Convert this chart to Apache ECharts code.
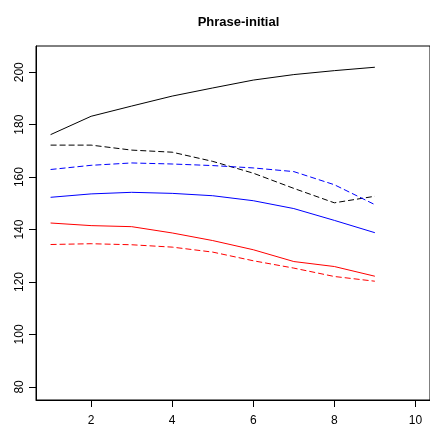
<!DOCTYPE html>
<html>
<head>
<meta charset="utf-8">
<script src="https://cdn.jsdelivr.net/npm/echarts@6/dist/echarts.min.js"></script>
<style>html,body{margin:0;padding:0;background:#fff}#c{width:430px;height:430px}</style>
</head>
<body>
<div id="c"></div>
<script>
var xValues = [1, 2, 3, 4, 5, 6, 7, 8, 9];
var blackSolid  = [176.2, 183.2, 187.1, 190.9, 194.0, 197.0, 199.1, 200.6, 201.9];
var blackDashed = [172.2, 172.2, 170.3, 169.5, 166.0, 161.5, 155.7, 150.2, 152.7];
var blueDashed  = [162.9, 164.5, 165.4, 165.0, 164.4, 163.5, 162.1, 157.1, 149.5];
var blueSolid   = [152.3, 153.6, 154.2, 153.8, 152.9, 151.0, 148.0, 143.5, 138.8];
var redSolid    = [142.5, 141.5, 141.1, 138.7, 135.8, 132.3, 127.8, 125.9, 122.2];
var redDashed   = [134.3, 134.6, 134.2, 133.3, 131.4, 128.1, 125.3, 122.1, 120.3];
var xTicks = [2, 4, 6, 8, 10];
var yTicks = [80, 100, 120, 140, 160, 180, 200];
var titleText = 'Phrase-initial';

function pairs(arr) { return arr.map(function (v, i) { return [xValues[i], v]; }); }
function line(name, arr, color, dashed) {
  return {
    name: name, type: 'line', data: pairs(arr), showSymbol: false, symbol: 'none',
    silent: true, animation: false,
    lineStyle: { color: color, width: 1, type: dashed ? [6, 3] : 'solid' }
  };
}
var font = 'Liberation Sans, Arial, Helvetica, sans-serif';
var chart = echarts.init(document.getElementById('c'), null, { renderer: 'canvas' });
chart.setOption({
  animation: false,
  backgroundColor: '#ffffff',
  title: {
    text: titleText, left: 233.5, top: 11, textAlign: 'center',
    textStyle: { fontFamily: font, fontWeight: 'bold', fontSize: 13, color: '#000' }
  },
  grid: { left: 36, top: 46, width: 396, height: 354, show: true, borderColor: '#000', borderWidth: 1, backgroundColor: 'transparent' },
  xAxis: {
    type: 'value', min: 0.64, max: 10.36,
    axisLine: { show: true, onZero: false, lineStyle: { color: '#000', width: 1 } },
    axisTick: { show: true, customValues: xTicks, length: 7, lineStyle: { color: '#000' } },
    axisLabel: { customValues: xTicks, color: '#000', fontFamily: font, fontSize: 12, margin: 15 },
    splitLine: { show: false }
  },
  yAxis: {
    type: 'value', min: 75, max: 210,
    axisLine: { show: true, onZero: false, lineStyle: { color: '#000', width: 1 } },
    axisTick: { show: true, customValues: yTicks, length: 7, lineStyle: { color: '#000' } },
    axisLabel: { customValues: yTicks, color: '#000', fontFamily: font, fontSize: 12, rotate: 90, margin: 16, verticalAlign: 'middle', align: 'center' },
    splitLine: { show: false }
  },
  series: [
    line('blackSolid', blackSolid, '#000000', false),
    line('blackDashed', blackDashed, '#000000', true),
    line('blueDashed', blueDashed, '#0000ff', true),
    line('blueSolid', blueSolid, '#0000ff', false),
    line('redSolid', redSolid, '#ff0000', false),
    line('redDashed', redDashed, '#ff0000', true)
  ]
});
</script>
</body>
</html>
